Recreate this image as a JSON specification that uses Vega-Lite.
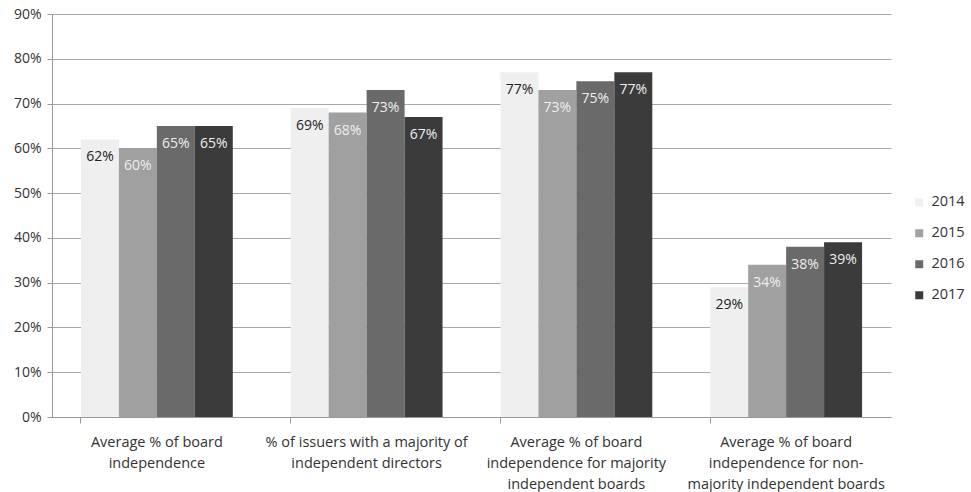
{
  "$schema": "https://vega.github.io/schema/vega-lite/v6.json",
  "width": 839,
  "height": 403,
  "autosize": "none",
  "padding": {"left": 52, "top": 14, "right": 80, "bottom": 75},
  "background": "#ffffff",
  "config": {
    "view": {"stroke": null},
    "font": "Open Sans",
    "axis": {"labelFont": "Open Sans", "labelColor": "#333333"},
    "legend": {"labelFont": "Open Sans"}
  },
  "data": {
    "values": [
      {"measure": "Average % of board|independence", "year": "2014", "value": 0.62},
      {"measure": "Average % of board|independence", "year": "2015", "value": 0.60},
      {"measure": "Average % of board|independence", "year": "2016", "value": 0.65},
      {"measure": "Average % of board|independence", "year": "2017", "value": 0.65},
      {"measure": "% of issuers with a majority of|independent directors", "year": "2014", "value": 0.69},
      {"measure": "% of issuers with a majority of|independent directors", "year": "2015", "value": 0.68},
      {"measure": "% of issuers with a majority of|independent directors", "year": "2016", "value": 0.73},
      {"measure": "% of issuers with a majority of|independent directors", "year": "2017", "value": 0.67},
      {"measure": "Average % of board|independence for majority|independent boards", "year": "2014", "value": 0.77},
      {"measure": "Average % of board|independence for majority|independent boards", "year": "2015", "value": 0.73},
      {"measure": "Average % of board|independence for majority|independent boards", "year": "2016", "value": 0.75},
      {"measure": "Average % of board|independence for majority|independent boards", "year": "2017", "value": 0.77},
      {"measure": "Average % of board|independence for non-|majority independent boards", "year": "2014", "value": 0.29},
      {"measure": "Average % of board|independence for non-|majority independent boards", "year": "2015", "value": 0.34},
      {"measure": "Average % of board|independence for non-|majority independent boards", "year": "2016", "value": 0.38},
      {"measure": "Average % of board|independence for non-|majority independent boards", "year": "2017", "value": 0.39}
    ]
  },
  "encoding": {
    "x": {
      "field": "measure",
      "type": "nominal",
      "sort": null,
      "title": null,
      "scale": {"paddingInner": 0.276, "paddingOuter": 0.138},
      "axis": {
        "labelAngle": 0,
        "labelExpr": "split(datum.label, '|')",
        "labelFontSize": 14.5,
        "labelLineHeight": 21,
        "labelPadding": 12,
        "labelBaseline": "top",
        "labelLimit": 220,
        "bandPosition": 0,
        "domainColor": "#999999",
        "tickColor": "#999999",
        "tickSize": 6,
        "grid": false
      }
    },
    "xOffset": {"field": "year", "type": "nominal", "sort": ["2014", "2015", "2016", "2017"]},
    "y": {
      "field": "value",
      "type": "quantitative",
      "title": null,
      "scale": {"domain": [0, 0.9]},
      "axis": {
        "values": [0, 0.1, 0.2, 0.3, 0.4, 0.5, 0.6, 0.7, 0.8, 0.9],
        "format": ".0%",
        "labelFontSize": 14,
        "labelPadding": 6,
        "gridColor": "#a8a8a8",
        "gridWidth": 1,
        "domainColor": "#999999",
        "tickColor": "#999999",
        "tickSize": 5
      }
    }
  },
  "layer": [
    {
      "mark": {"type": "bar"},
      "encoding": {
        "color": {
          "field": "year",
          "type": "nominal",
          "title": null,
          "scale": {
            "domain": ["2014", "2015", "2016", "2017"],
            "range": ["#efefef", "#a0a0a0", "#6a6a6a", "#3b3b3b"]
          },
          "legend": {
            "orient": "none",
            "legendX": 860,
            "legendY": 181,
            "symbolType": "square",
            "symbolSize": 64,
            "symbolStrokeWidth": 0,
            "labelFontSize": 14.5,
            "labelColor": "#333333",
            "rowPadding": 16,
            "labelOffset": 5
          }
        }
      }
    },
    {
      "mark": {"type": "text", "dy": 18, "fontSize": 14, "baseline": "middle"},
      "encoding": {
        "text": {"field": "value", "type": "quantitative", "format": ".0%"},
        "color": {
          "condition": {"test": "datum.year === '2014'", "value": "#222222"},
          "value": "#eeeeee"
        }
      }
    }
  ]
}
